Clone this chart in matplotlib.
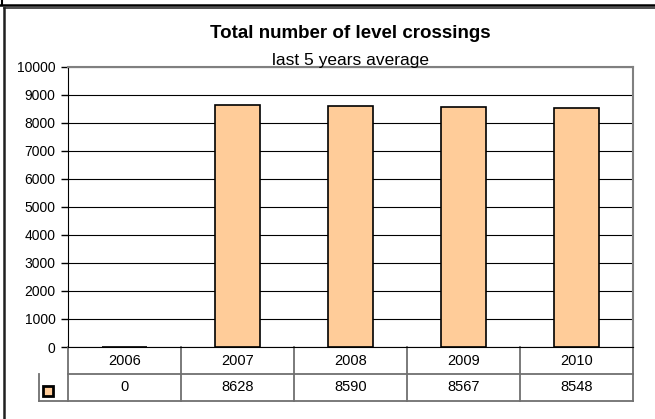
import matplotlib
matplotlib.use("Agg")
import matplotlib.pyplot as plt
import matplotlib.transforms as mtransforms
from matplotlib.lines import Line2D
from matplotlib.patches import Rectangle

years = ["2006", "2007", "2008", "2009", "2010"]
values = [0, 8628, 8590, 8567, 8548]
yticks = list(range(0, 10001, 1000))

plt.rcParams['font.family'] = ['Liberation Sans', 'DejaVu Sans']

W, H = 655, 419
fig = plt.figure(figsize=(W / 100, H / 100), dpi=100)

def fx(px):
    return px / W

def fy(py):
    return 1 - py / H

L, R, T, B = 68, 633, 67, 347
ax = fig.add_axes([fx(L), fy(B), fx(R) - fx(L), fy(T) - fy(B)])

x = list(range(len(years)))
ax.bar(x, values, width=0.4, color="#FFCC99", edgecolor="black", linewidth=1.2, zorder=2)
ax.set_xlim(-0.5, len(years) - 0.5)
ax.set_ylim(0, 10000)
ax.set_yticks(yticks)
ax.set_yticklabels([str(v) for v in yticks], fontsize=10)
ax.tick_params(axis='y', length=5, width=1, color='black', pad=4)
ax.set_xticks([])
ax.grid(axis='y', color='black', linewidth=0.8)
for s in ['top', 'right']:
    ax.spines[s].set_color('#808080')
    ax.spines[s].set_linewidth(1.5)
ax.spines['left'].set_color('black')
ax.spines['bottom'].set_color('black')
ax.spines['bottom'].set_zorder(3)

# data table below
trans = mtransforms.blended_transform_factory(ax.transData, ax.transAxes)
ph = B - T
def ay(py):
    return (B - py) / ph
def axx(px):
    return (px - L) / (R - L)

r1, r2 = 374, 400.5
lc = '#707070'
lines = [
    ([axx(L), axx(R)], [ay(r1), ay(r1)]),
    ([axx(39), axx(R)], [ay(r2), ay(r2)]),
    ([axx(39), axx(39)], [ay(r1), ay(r2)]),
    ([axx(L), axx(L)], [0, ay(r2)]),
    ([axx(R), axx(R)], [0, ay(r2)]),
]
for i in range(1, len(years)):
    xb = axx(L + i * (R - L) / len(years))
    lines.append(([xb, xb], [0, ay(r2)]))
for xs, ys in lines:
    ax.add_line(Line2D(xs, ys, transform=ax.transAxes, color=lc, linewidth=1.3, clip_on=False))

for i, (yr, v) in enumerate(zip(years, values)):
    ax.text(i, ay((B + r1) / 2), yr, transform=trans, ha='center', va='center', fontsize=10.5)
    ax.text(i, ay((r1 + r2) / 2), str(v), transform=trans, ha='center', va='center', fontsize=10.5)

# legend key
ax.add_patch(Rectangle((axx(43), ay(395.5)), axx(52.5) - axx(43), ay(386) - ay(395.5),
                       transform=ax.transAxes, facecolor="#FFCC99", edgecolor="black",
                       linewidth=2, clip_on=False))

# titles
cx = (fx(L) + fx(R)) / 2
fig.text(cx, fy(33), "Total number of level crossings", ha='center', va='center',
         fontsize=13.5, fontweight='bold')
fig.text(cx, fy(61), "last 5 years average", ha='center', va='center', fontsize=12.5)

# outer frames
fig.add_artist(Line2D([0, 1], [fy(5), fy(5)], color='black', linewidth=1.8))
fig.add_artist(Line2D([fx(1.5), fx(1.5)], [1, fy(5)], color='black', linewidth=1.5))
fig.add_artist(Line2D([fx(3.5), 1], [fy(8.5), fy(8.5)], color='#404040', linewidth=1.3))
fig.add_artist(Line2D([fx(3.5), fx(3.5)], [fy(8.5), 0], color='#202020', linewidth=1.8))

fig.savefig("out.png", dpi=100)
